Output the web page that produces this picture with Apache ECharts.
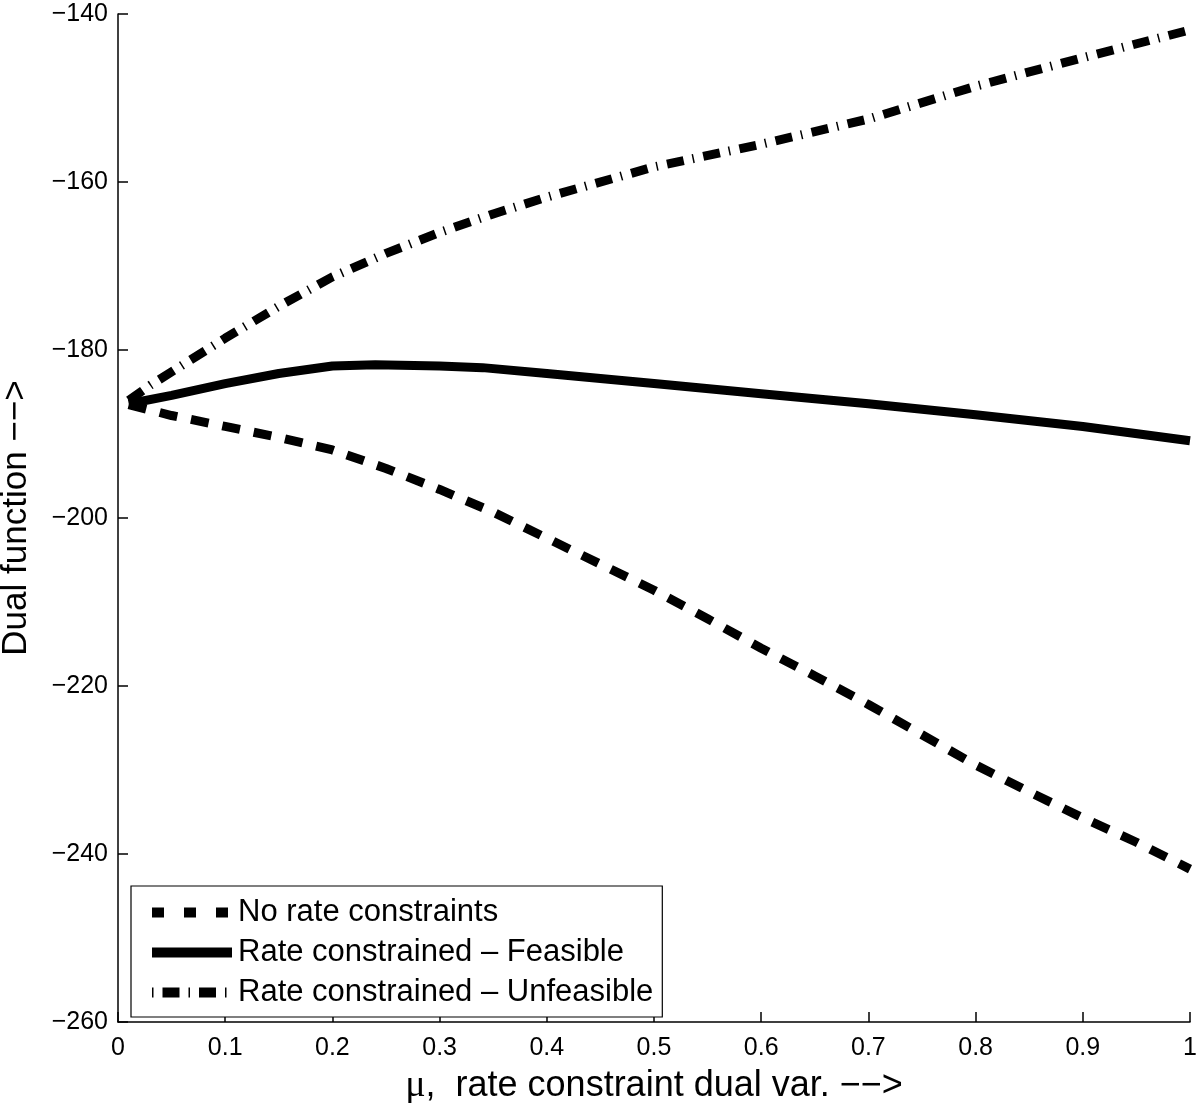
<!DOCTYPE html>
<html>
<head>
<meta charset="utf-8">
<script src="https://cdn.jsdelivr.net/npm/echarts@6/dist/echarts.min.js"></script>
<style>html,body{margin:0;padding:0;background:#fff}#c{width:1200px;height:1103px}</style>
</head>
<body>
<div id="c"></div>
<script>
// ---- data ----
var xNoRate = [0.01, 0.05, 0.1, 0.15, 0.2, 0.25, 0.3, 0.35, 0.4, 0.45, 0.5, 0.55, 0.6, 0.65, 0.7, 0.75, 0.8, 0.85, 0.9, 0.95, 1.0];
var yNoRate = [-186.5, -187.8, -189.1, -190.4, -191.9, -194.1, -196.6, -199.3, -202.4, -205.5, -208.6, -212.0, -215.5, -218.8, -222.2, -225.8, -229.4, -232.6, -235.7, -238.6, -241.8];

var xFeasible = [0.01, 0.05, 0.1, 0.15, 0.2, 0.24, 0.3, 0.34, 0.4, 0.5, 0.6, 0.7, 0.8, 0.9, 1.0];
var yFeasible = [-186.4, -185.4, -184.0, -182.8, -181.9, -181.75, -181.9, -182.1, -182.8, -184.0, -185.2, -186.4, -187.7, -189.1, -190.8];

var xUnfeasible = [0.01, 0.03, 0.06, 0.1, 0.15, 0.2, 0.25, 0.3, 0.35, 0.4, 0.5, 0.6, 0.7, 0.8, 0.9, 1.0];
var yUnfeasible = [-186.0, -184.2, -181.8, -178.6, -174.8, -171.3, -168.5, -166.0, -163.8, -161.8, -158.2, -155.5, -152.5, -148.6, -145.2, -141.9];

var seriesNames = ['No rate constraints', 'Rate constrained \u2013 Feasible', 'Rate constrained \u2013 Unfeasible'];
var xTicks = {min: 0, max: 1, interval: 0.1};
var yTicks = {min: -260, max: -140, interval: 20};

function pairs(xs, ys) { return xs.map(function (x, i) { return [x, ys[i]]; }); }

var FONT = 'Liberation Sans, Arial, Helvetica, sans-serif';
var chart = echarts.init(document.getElementById('c'));
chart.setOption({
  animation: false,
  backgroundColor: '#fff',
  grid: {left: 118, right: 10, top: 14, bottom: 81, containLabel: false, outerBoundsMode: 'none'},
  xAxis: {
    type: 'value', min: xTicks.min, max: xTicks.max, interval: xTicks.interval,
    name: '{mu|\u03bc},  rate constraint dual var. \u2212\u2212>',
    nameLocation: 'middle', nameGap: 45,
    nameTextStyle: {fontFamily: FONT, fontSize: 36, color: '#000',
      rich: {mu: {fontFamily: 'Liberation Serif, DejaVu Serif, serif', fontSize: 38, color: '#000'}}},
    axisLine: {show: true, onZero: false, lineStyle: {color: '#000', width: 1.5}},
    axisTick: {show: true, inside: true, length: 10, lineStyle: {color: '#000', width: 1.5}},
    axisLabel: {fontFamily: FONT, fontSize: 25, color: '#000', margin: 14,
      formatter: function (v) { return String(Math.round(v * 10) / 10); }},
    splitLine: {show: false}
  },
  yAxis: {
    type: 'value', min: yTicks.min, max: yTicks.max, interval: yTicks.interval,
    name: 'Dual function \u2212\u2212>',
    nameLocation: 'middle', nameGap: 84, nameRotate: 90,
    nameTextStyle: {fontFamily: FONT, fontSize: 35, color: '#000'},
    axisLine: {show: true, onZero: false, lineStyle: {color: '#000', width: 1.5}},
    axisTick: {show: true, inside: true, length: 10, lineStyle: {color: '#000', width: 1.5}},
    axisLabel: {fontFamily: FONT, fontSize: 25, color: '#000', margin: 10,
      formatter: function (v) { return String(v).replace('-', '\u2212'); }},
    splitLine: {show: false}
  },
  legend: {
    orient: 'vertical', left: 131, top: 886,
    padding: [11, 9, 9, 16], itemGap: 9,
    itemWidth: 80, itemHeight: 10,
    backgroundColor: '#fff', borderColor: '#000', borderWidth: 1.2, borderRadius: 0,
    itemStyle: {color: 'rgba(0,0,0,0)', borderWidth: 0, opacity: 0},
    lineStyle: {color: '#000', width: 10, cap: 'butt'},
    textStyle: {fontFamily: FONT, fontSize: 31, color: '#000', padding: [0, 0, 0, 1]},
    data: [
      {name: seriesNames[0], lineStyle: {type: [12, 20], cap: 'butt', width: 10}},
      {name: seriesNames[1], lineStyle: {type: 'solid', width: 10}},
      {name: seriesNames[2], lineStyle: {type: [1.5, 9, 17, 9], cap: 'butt', width: 10}}
    ]
  },
  series: [
    {
      name: seriesNames[0], type: 'line', symbol: 'none', smooth: false,
      data: pairs(xNoRate, yNoRate),
      lineStyle: {color: '#000', width: 9, type: [18, 14], cap: 'butt', join: 'round'},
      itemStyle: {color: '#000'}
    },
    {
      name: seriesNames[1], type: 'line', symbol: 'none', smooth: false,
      data: pairs(xFeasible, yFeasible),
      lineStyle: {color: '#000', width: 9, type: 'solid', join: 'round'},
      itemStyle: {color: '#000'}
    },
    {
      name: seriesNames[2], type: 'line', symbol: 'none', smooth: false,
      data: pairs(xUnfeasible, yUnfeasible),
      lineStyle: {color: '#000', width: 9, type: [17, 9, 1.5, 9.5], cap: 'butt', join: 'round'},
      itemStyle: {color: '#000'}
    }
  ]
});
</script>
</body>
</html>
